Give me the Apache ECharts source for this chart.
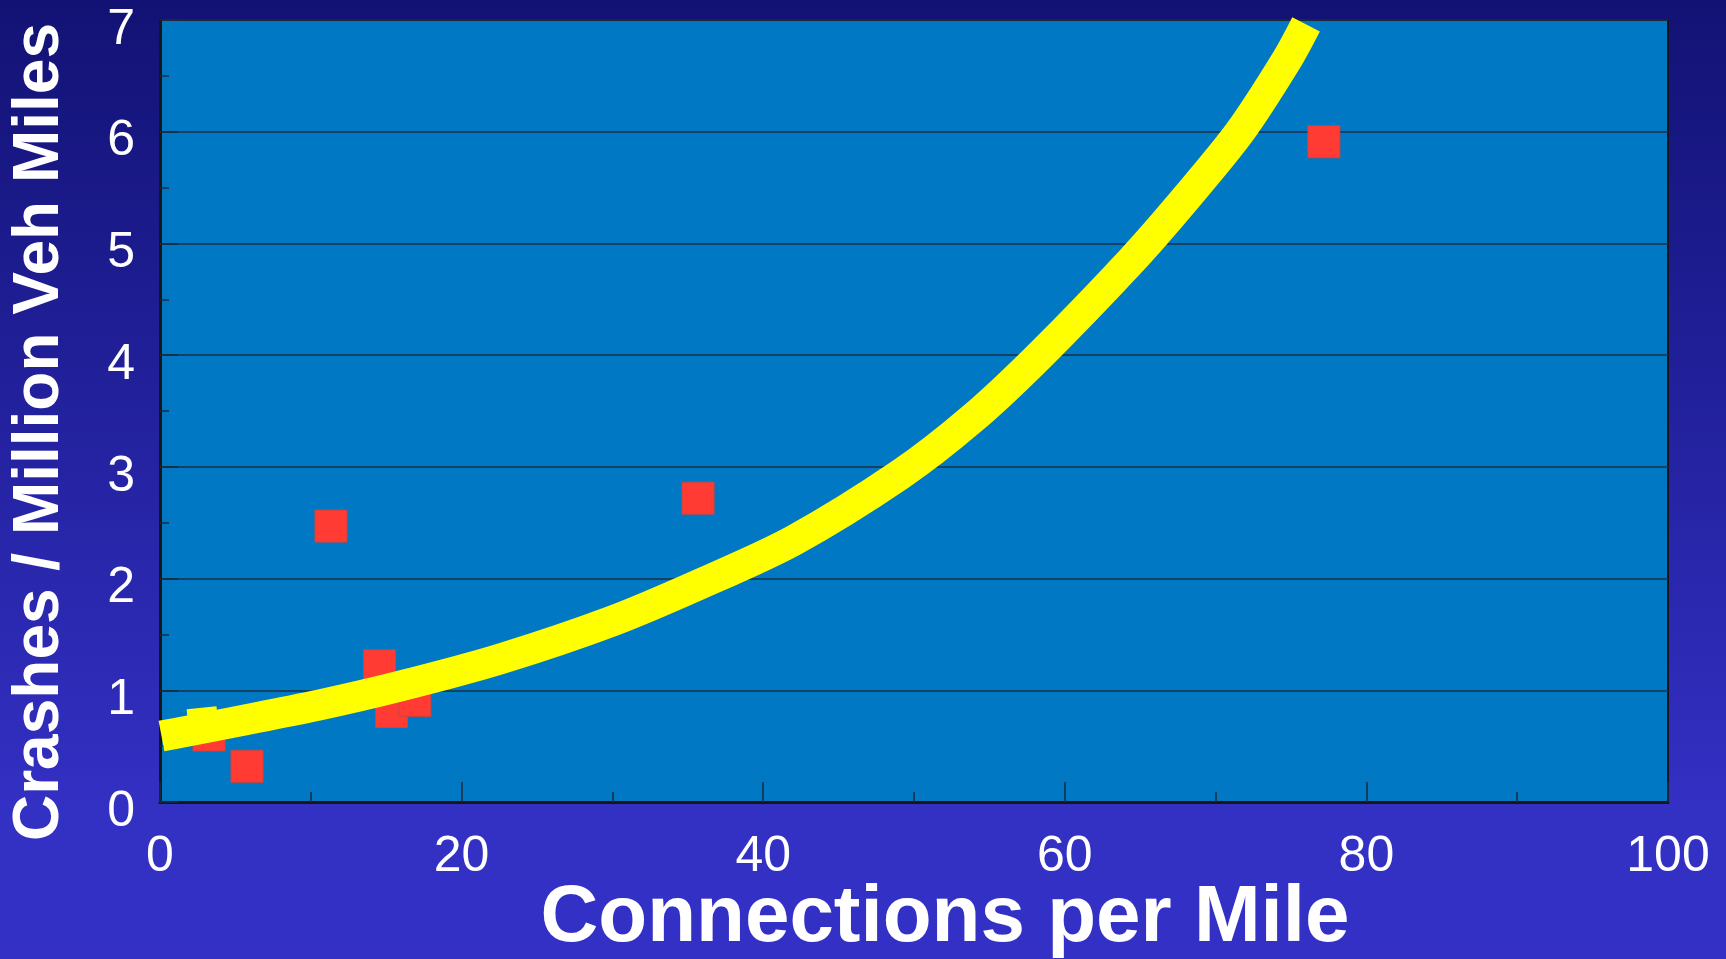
<!DOCTYPE html>
<html>
<head>
<meta charset="utf-8">
<title>Crashes vs Connections per Mile</title>
<script src="https://cdn.jsdelivr.net/npm/echarts@6/dist/echarts.min.js"></script>
<style>
  html, body { margin: 0; padding: 0; width: 100%; height: 100%; overflow: hidden; }
  #chart { width: 1726px; height: 959px; }
</style>
</head>
<body>
<div id="chart"></div>
<script>
// Observed corridors: access connections per mile vs crash rate
const connections = [3.25, 5.77, 11.34, 14.56, 15.35, 16.9, 35.68, 77.18];
const crashRates  = [0.60, 0.32, 2.47, 1.22, 0.81, 0.91, 2.72, 5.91];

// Fitted trend curve (x, y) points
const trendX = [0.1, 10.6, 16.0, 22.55, 30.0, 35.8, 42.0, 49.07, 53.85, 58.36, 64.44, 68.0, 71.62, 74.71, 76.0];
const trendY = [0.59, 0.87, 1.04, 1.28, 1.62, 1.95, 2.34, 2.93, 3.43, 4.00, 4.85, 5.40, 6.00, 6.64, 6.96];

// Marker sitting on the start of the trend curve
const trendMarkX = [2.86];
const trendMarkY = [0.71];

const xTicks = ['0', '20', '40', '60', '80', '100'];
const yTicks = ['0', '1', '2', '3', '4', '5', '6', '7'];

const xTitle = 'Connections per Mile';
const yTitle = 'Crashes / Million Veh Miles';

const pairs = (xs, ys) => xs.map((x, i) => [x, ys[i]]);

const FONT = '"Liberation Sans", Arial, sans-serif';
const TICK_COLOR = '#1b2a3c';

const chart = echarts.init(document.getElementById('chart'), null, { renderer: 'canvas' });

chart.setOption({
  animation: false,
  backgroundColor: {
    type: 'linear', x: 0, y: 0, x2: 0, y2: 1,
    colorStops: [
      { offset: 0, color: '#121275' },
      { offset: 0.85, color: '#3330c4' },
      { offset: 1, color: '#3430c6' }
    ]
  },
  grid: {
    left: 160, right: 58, top: 20, bottom: 157,
    outerBoundsMode: 'none',
    containLabel: false,
    show: true,
    backgroundColor: '#0078c3',
    borderColor: '#161616',
    borderWidth: 2
  },
  xAxis: {
    type: 'value',
    min: 0, max: 100, interval: 20,
    axisLine: { show: true, onZero: false, lineStyle: { color: '#161616', width: 3 } },
    axisTick: { show: true, inside: true, length: 20, lineStyle: { color: TICK_COLOR, width: 1.5 } },
    minorTick: { show: true, splitNumber: 2, length: 10, lineStyle: { color: TICK_COLOR, width: 1.5 } },
    splitLine: { show: false },
    axisLabel: {
      color: '#ffffff', fontFamily: FONT, fontSize: 50, margin: 30,
      formatter: v => xTicks[Math.round(v / 20)]
    }
  },
  yAxis: {
    type: 'value',
    min: 0, max: 7, interval: 1,
    axisLine: { show: true, onZero: false, lineStyle: { color: '#161616', width: 3 } },
    axisTick: { show: true, inside: true, length: 18, lineStyle: { color: TICK_COLOR, width: 1.5 } },
    minorTick: { show: true, splitNumber: 2, length: 9, lineStyle: { color: TICK_COLOR, width: 1.5 } },
    splitLine: { show: true, lineStyle: { color: '#1d3044', width: 1.5 } },
    axisLabel: {
      color: '#ffffff', fontFamily: FONT, fontSize: 50, margin: 25,
      verticalAlign: 'top',
      lineHeight: 20,
      formatter: v => yTicks[Math.round(v)]
    }
  },
  series: [
    {
      name: 'Corridors',
      type: 'scatter',
      data: pairs(connections, crashRates),
      symbol: 'rect',
      symbolSize: 32,
      itemStyle: { color: '#ff3b33', borderColor: '#d2443c', borderWidth: 1, opacity: 1 },
      z: 2
    },
    {
      name: 'Trend marker',
      type: 'scatter',
      data: pairs(trendMarkX, trendMarkY),
      symbol: 'rect',
      symbolSize: 30,
      symbolRotate: 6,
      itemStyle: { color: '#ffff00', opacity: 1 },
      z: 3
    },
    {
      name: 'Trend',
      type: 'line',
      data: pairs(trendX, trendY),
      smooth: 0.3,
      showSymbol: false,
      clip: false,
      lineStyle: { color: '#ffff00', width: 31, cap: 'butt', join: 'round', opacity: 1 },
      z: 4
    }
  ],
  graphic: [
    {
      type: 'text',
      x: 945, y: 919,
      style: {
        text: xTitle,
        fill: '#ffffff',
        font: 'bold 80px ' + FONT,
        align: 'center',
        verticalAlign: 'middle'
      }
    },
    {
      type: 'text',
      x: 40, y: 432,
      rotation: Math.PI / 2,
      style: {
        text: yTitle,
        fill: '#ffffff',
        font: 'bold 64px ' + FONT,
        align: 'center',
        verticalAlign: 'middle'
      }
    }
  ]
});
</script>
</body>
</html>
